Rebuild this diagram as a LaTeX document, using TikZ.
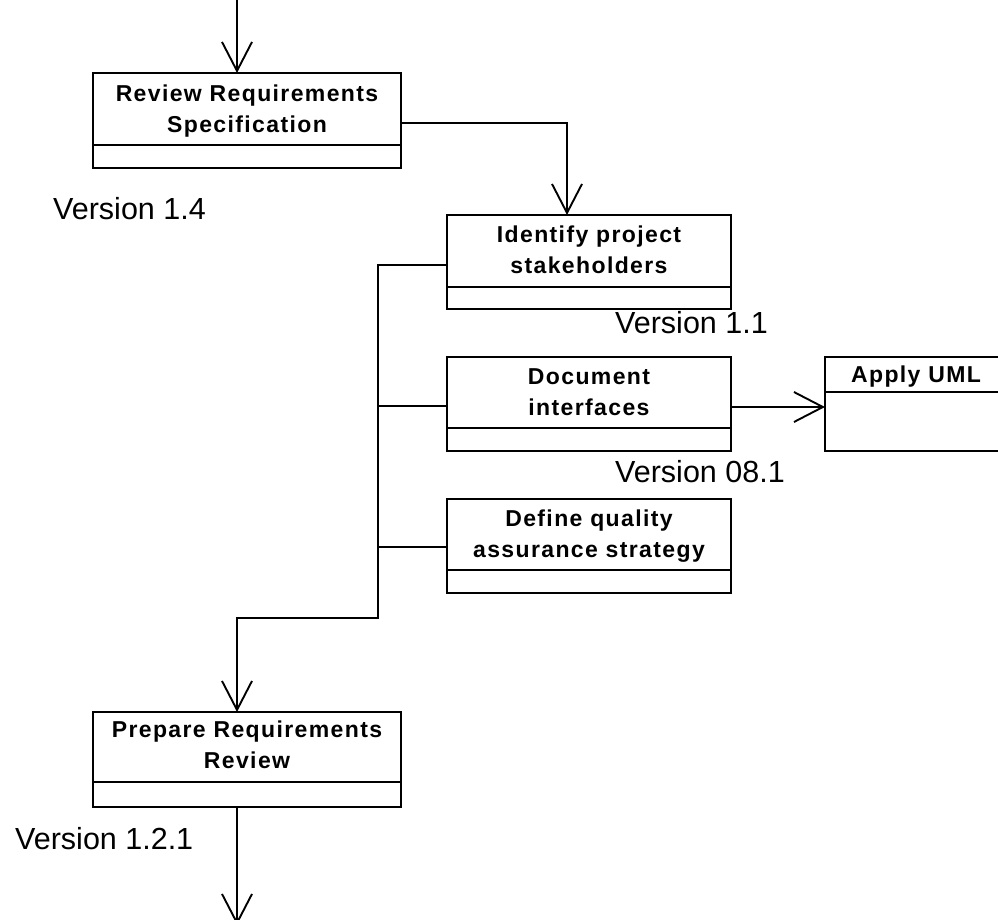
\documentclass[tikz,border=0pt]{standalone}
\usepackage{fontspec}
\setmainfont{Liberation Sans}
\newfontfamily\boxfont[LetterSpace=6]{Liberation Sans}
\usetikzlibrary{arrows.meta}
\tikzset{
  box/.style={draw, line width=1.9pt, anchor=north west, inner sep=0pt, outer sep=0pt},
  lbl/.style={font=\boxfont\bfseries\fontsize{23}{31}\selectfont, anchor=base, align=center, inner sep=0pt},
  ver/.style={font=\fontsize{30.5}{36}\selectfont, anchor=base west, inner sep=0pt},
  conn/.style={line width=1.9pt},
  arr/.style={conn, -{Straight Barb[length=29pt,width=30pt]}},
}
\begin{document}
\begin{tikzpicture}[x=1pt,y=-1pt]
\useasboundingbox (0,0) rectangle (998,919);
% boxes
\node[box, minimum width=308pt, minimum height=95pt] (b1) at (93,73) {};
\node[box, minimum width=284pt, minimum height=94pt] (b2) at (447,215) {};
\node[box, minimum width=284pt, minimum height=94pt] (b3) at (447,357) {};
\node[box, minimum width=182pt, minimum height=94pt] (uml) at (825,357) {};
\node[box, minimum width=284pt, minimum height=94pt] (b4) at (447,499) {};
\node[box, minimum width=308pt, minimum height=95pt] (b5) at (93,712) {};
% dividers
\draw[conn] (b1.west |- 0,145) -- (b1.east |- 0,145);
\draw[conn] (b2.west |- 0,287) -- (b2.east |- 0,287);
\draw[conn] (b3.west |- 0,428) -- (b3.east |- 0,428);
\draw[conn] (uml.west |- 0,392) -- (uml.east |- 0,392);
\draw[conn] (b4.west |- 0,570) -- (b4.east |- 0,570);
\draw[conn] (b5.west |- 0,782) -- (b5.east |- 0,782);
% box texts (base anchor = last line's baseline)
\node[lbl] (t1) at (247,132) {Review Requirements\\Specification};
\node[lbl] (t2) at (589,273) {Identify project\\stakeholders};
\node[lbl] (t3) at (589,415) {Document\\interfaces};
\node[lbl] (tu) at (916,382) {Apply UML};
\node[lbl] (t4) at (589,557) {Define quality\\assurance strategy};
\node[lbl] (t5) at (247,768) {Prepare Requirements\\Review};
% version labels
\node[ver] (v1) at (53,219) {Version 1.4};
\node[ver] (v2) at (615,333) {Version 1.1};
\node[ver] (v3) at (615,482) {Version 08.1};
\node[ver] (v4) at (15,849) {Version 1.2.1};
% connectors
\coordinate (top) at (237,-5);
\coordinate (bot) at (237,925);
\draw[arr] (top) -- (b1.north -| top);
\draw[arr] (b1.east |- 0,123) -- (567,123) -- (b2.north -| 567,0);
\draw[arr] (b2.west |- 0,265) -- (378,265) -- (378,618) -- (237,618) -- (b5.north -| 237,0);
\draw[conn] (b3.west |- 0,406) -- (378,406);
\draw[conn] (b4.west |- 0,547) -- (378,547);
\draw[arr] (b3.east |- 0,407) -- (uml.west |- 0,407);
\draw[arr] (b5.south -| bot) -- (bot);
\end{tikzpicture}
\end{document}
